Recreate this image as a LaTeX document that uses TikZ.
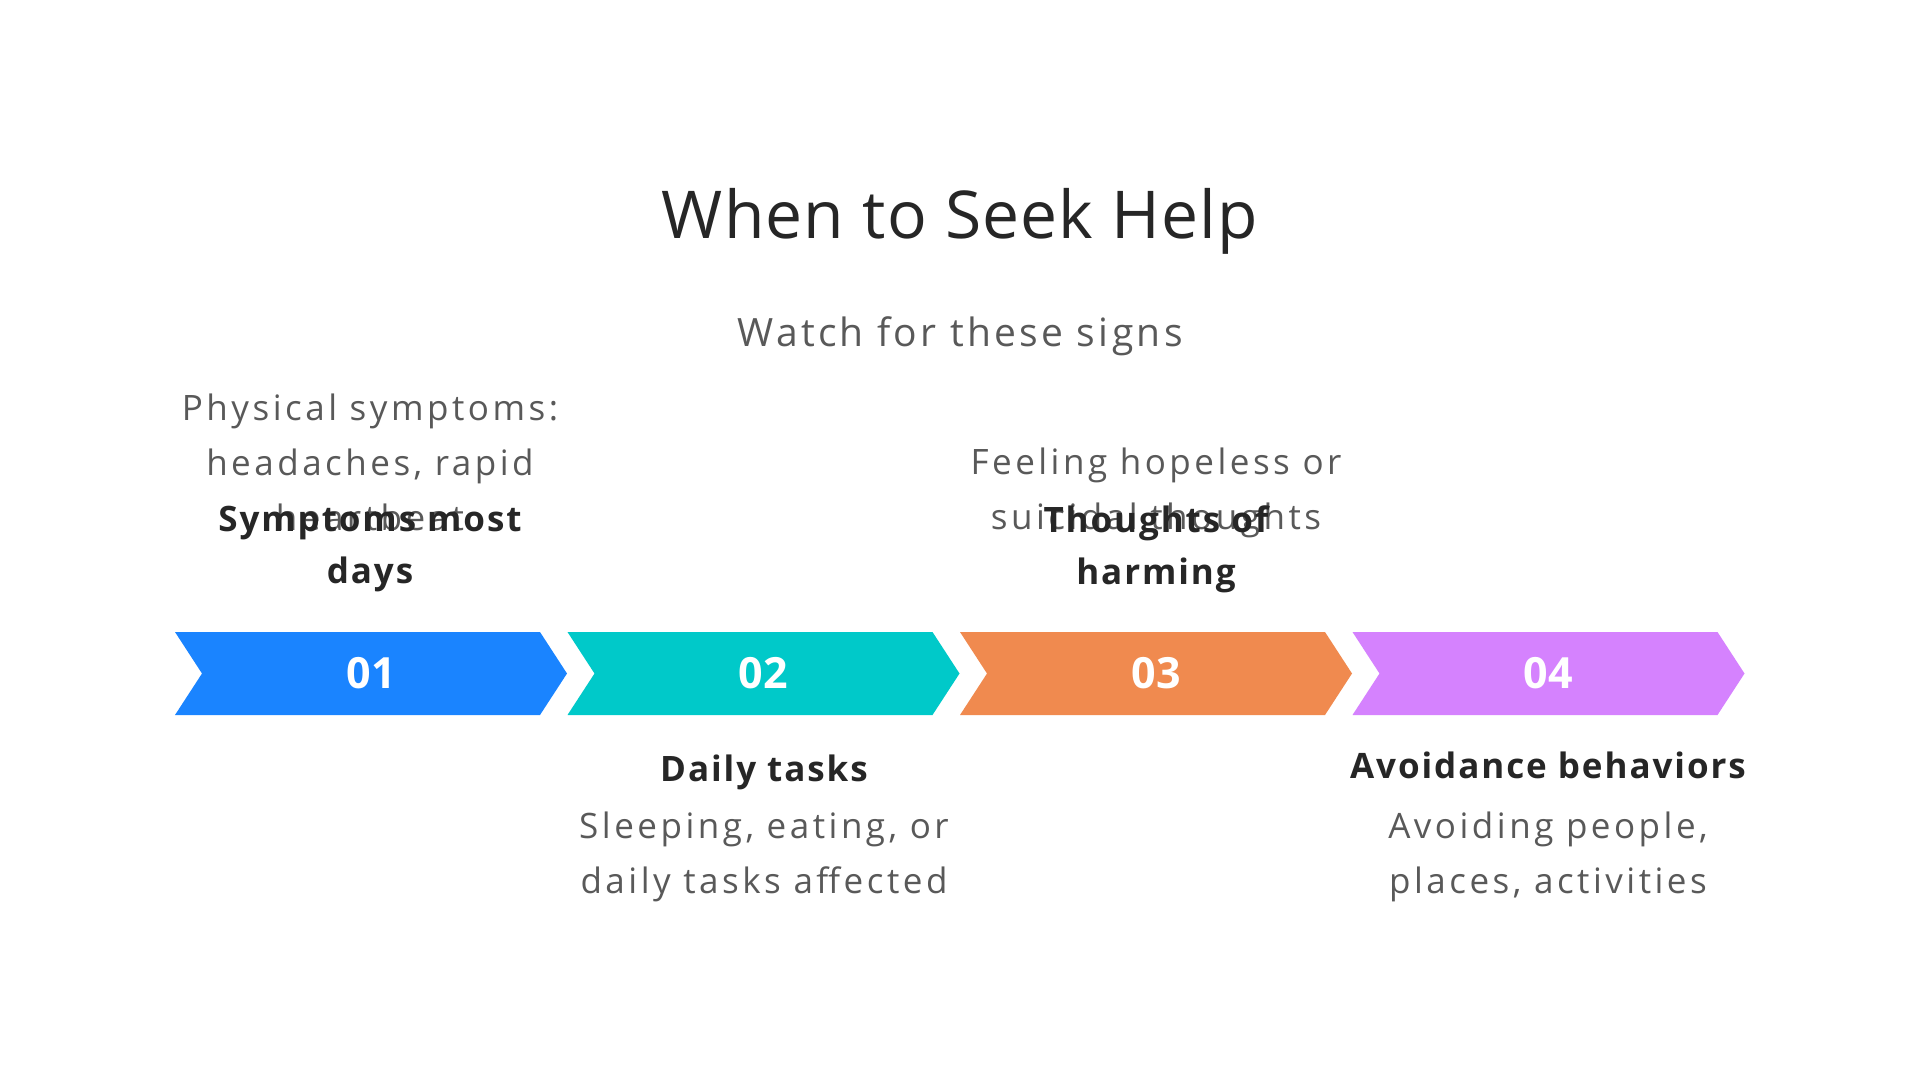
\documentclass[tikz,border=0pt]{standalone}
\usepackage{fontspec}
\setmainfont{Open Sans}
\usetikzlibrary{positioning}

\definecolor{stepblue}{HTML}{1A84FF}
\definecolor{stepteal}{HTML}{00C9C9}
\definecolor{steporange}{HTML}{F08A4F}
\definecolor{steppurple}{HTML}{D582FE}
\definecolor{inkdark}{HTML}{262626}
\definecolor{inkgray}{HTML}{595959}

\begin{document}
\begin{tikzpicture}[
				x=1pt,
				y=-1pt,
				every node/.style={inner sep=0pt},
				titletext/.style={text=inkdark, font=\fontsize{66}{70}\selectfont\addfontfeatures{LetterSpace=1.7}},
				subtext/.style={text=inkgray, font=\fontsize{39}{44}\selectfont\addfontfeatures{LetterSpace=8.5}},
				numtext/.style={text=white, font=\bfseries\fontsize{43}{48}\selectfont},
				headtext/.style={text=inkdark, align=center, anchor=base, font=\bfseries\fontsize{35}{52}\selectfont\addfontfeatures{LetterSpace=5.5}},
				desctext/.style={text=inkgray, align=center, anchor=base, font=\fontsize{35}{55}\selectfont\addfontfeatures{LetterSpace=10}}
				]
				\useasboundingbox[fill=white] (0,0) rectangle (1920,1080);
				
				% Title
				\node[titletext, anchor=base] (title) at (960,238) {When to Seek Help};
				\node[subtext, anchor=base] (subtitle) at (960,346) {Watch for these signs};
				
				% Chevrons
				\foreach \i/\c in {1/stepblue,2/stepteal,3/steporange,4/steppurple}{
					\pgfmathsetmacro\xo{175+(\i-1)*392.5}
					\fill[\c] (\xo,632) -- ++(365,0) -- ++(27,41.5) -- ++(-27,41.5)
						-- ++(-365,0) -- ++(27,-41.5) -- cycle;
					\node[numtext] (n\i) at (\xo+196,673.5) {0\i};
				}
				
				% Labels above (base = last line)
				\node[desctext] (desc1) at (370,530) {Physical symptoms:\\headaches, rapid\\heartbeat};
				\node[headtext] (lab1) at (370,583) {Symptoms most\\days};
				\node[desctext] (desc3) at (1156,529) {Feeling hopeless or\\suicidal thoughts};
				\node[headtext] (lab3) at (1156,584) {Thoughts of\\harming};
				
				% Labels below
				\node[headtext] (lab2) at (764,781) {Daily tasks};
				\node[desctext] (desc2) at (764,893) {Sleeping, eating, or\\daily tasks affected};
				\node[headtext] (lab4) at (1548,778) {Avoidance behaviors};
				\node[desctext] (desc4) at (1548,893) {Avoiding people,\\places, activities};
			\end{tikzpicture}
\end{document}
